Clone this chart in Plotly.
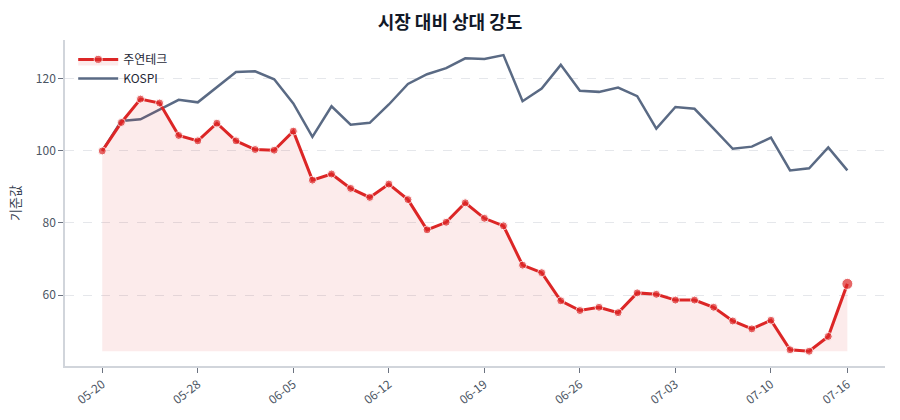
import plotly.graph_objects as go

dates = ["05-20", "05-21", "05-22", "05-23", "05-24", "05-28", "05-29", "05-30", "05-31", "06-03",
         "06-05", "06-06", "06-07", "06-10", "06-11", "06-12", "06-13", "06-14", "06-17", "06-18",
         "06-19", "06-20", "06-21", "06-24", "06-25", "06-26", "06-27", "06-28", "07-01", "07-02",
         "07-03", "07-04", "07-05", "07-08", "07-09", "07-10", "07-11", "07-12", "07-15", "07-16"]

stock = [100.0, 107.9, 114.4, 113.3, 104.3, 102.8, 107.7, 102.8, 100.4, 100.2,
         105.5, 91.9, 93.6, 89.6, 87.1, 90.8, 86.5, 78.1, 80.2, 85.6,
         81.3, 79.2, 68.3, 66.2, 58.4, 55.7, 56.6, 55.1, 60.6, 60.2,
         58.6, 58.6, 56.6, 52.8, 50.6, 53.0, 44.8, 44.4, 48.5, 63.1]

kospi = [100.0, 108.3, 108.8, 111.6, 114.2, 113.5, 117.8, 121.9, 122.1, 119.9,
         113.2, 103.9, 112.4, 107.3, 107.8, 112.9, 118.6, 121.3, 123.0, 125.7,
         125.5, 126.6, 113.8, 117.3, 123.9, 116.7, 116.4, 117.6, 115.2, 106.2,
         112.2, 111.7, 106.2, 100.6, 101.2, 103.7, 94.6, 95.2, 101.0, 94.6]

tick_labels = ["05-20", "05-28", "06-05", "06-12", "06-19", "06-26", "07-03", "07-10", "07-16"]
y_ticks = [60, 80, 100, 120]

RED = "#dc2626"
GRAY = "#5a6a84"
FONT = "Noto Sans CJK KR, Noto Sans, sans-serif"

idx = list(range(len(dates)))
tick_idx = [dates.index(t) for t in tick_labels]
base = min(stock)
marker_sizes = [8] * (len(stock) - 1) + [11]

fig = go.Figure()
fig.add_trace(go.Scatter(x=idx, y=kospi, mode="lines", name="KOSPI", legendrank=2,
                         line=dict(color=GRAY, width=2.5)))
fig.add_trace(go.Scatter(x=idx, y=[base] * len(idx), mode="lines",
                         line=dict(width=0, color="rgba(0,0,0,0)"),
                         showlegend=False, hoverinfo="skip"))
fig.add_trace(go.Scatter(x=idx, y=stock, mode="lines+markers", name="주연테크", legendrank=1,
                         line=dict(color=RED, width=3),
                         marker=dict(color=RED, size=marker_sizes),
                         fill="tonexty", fillcolor="rgba(220,38,38,0.09)"))

fig.update_layout(
    width=900, height=420,
    margin=dict(l=65, r=15, t=40, b=54),
    paper_bgcolor="white", plot_bgcolor="white",
    font=dict(family=FONT, color="#4b5563", size=12),
    title=dict(text="<b>시장 대비 상대 강도</b>", x=0.5, xanchor="center", y=0.945, yanchor="middle",
               font=dict(family=FONT, size=18, color="#111827")),
    legend=dict(x=0.01, y=0.985, xanchor="left", yanchor="top", traceorder="normal",
                bgcolor="rgba(255,255,255,0)", font=dict(size=12, color="#1f2937"),
                itemwidth=40),
    showlegend=True,
)
fig.update_xaxes(range=[-1.95, 40.97], tickmode="array", tickvals=tick_idx, ticktext=tick_labels,
                 tickangle=-38, showgrid=False, zeroline=False,
                 showline=True, linecolor="#d1d5db", linewidth=1.5,
                 ticks="outside", ticklen=5, tickcolor="#6b7280",
                 tickfont=dict(size=12, color="#4b5563"))
fig.update_yaxes(range=[40.3, 130.8], tickmode="array", tickvals=y_ticks,
                 showgrid=True, gridcolor="#e5e7eb", griddash="dash", gridwidth=1,
                 zeroline=False, showline=True, linecolor="#d1d5db", linewidth=1.5,
                 ticks="outside", ticklen=5, tickcolor="#6b7280",
                 tickfont=dict(size=12, color="#4b5563"),
                 title=dict(text="기준값", font=dict(size=13, color="#374151"), standoff=12))

fig.write_html("out.html")
